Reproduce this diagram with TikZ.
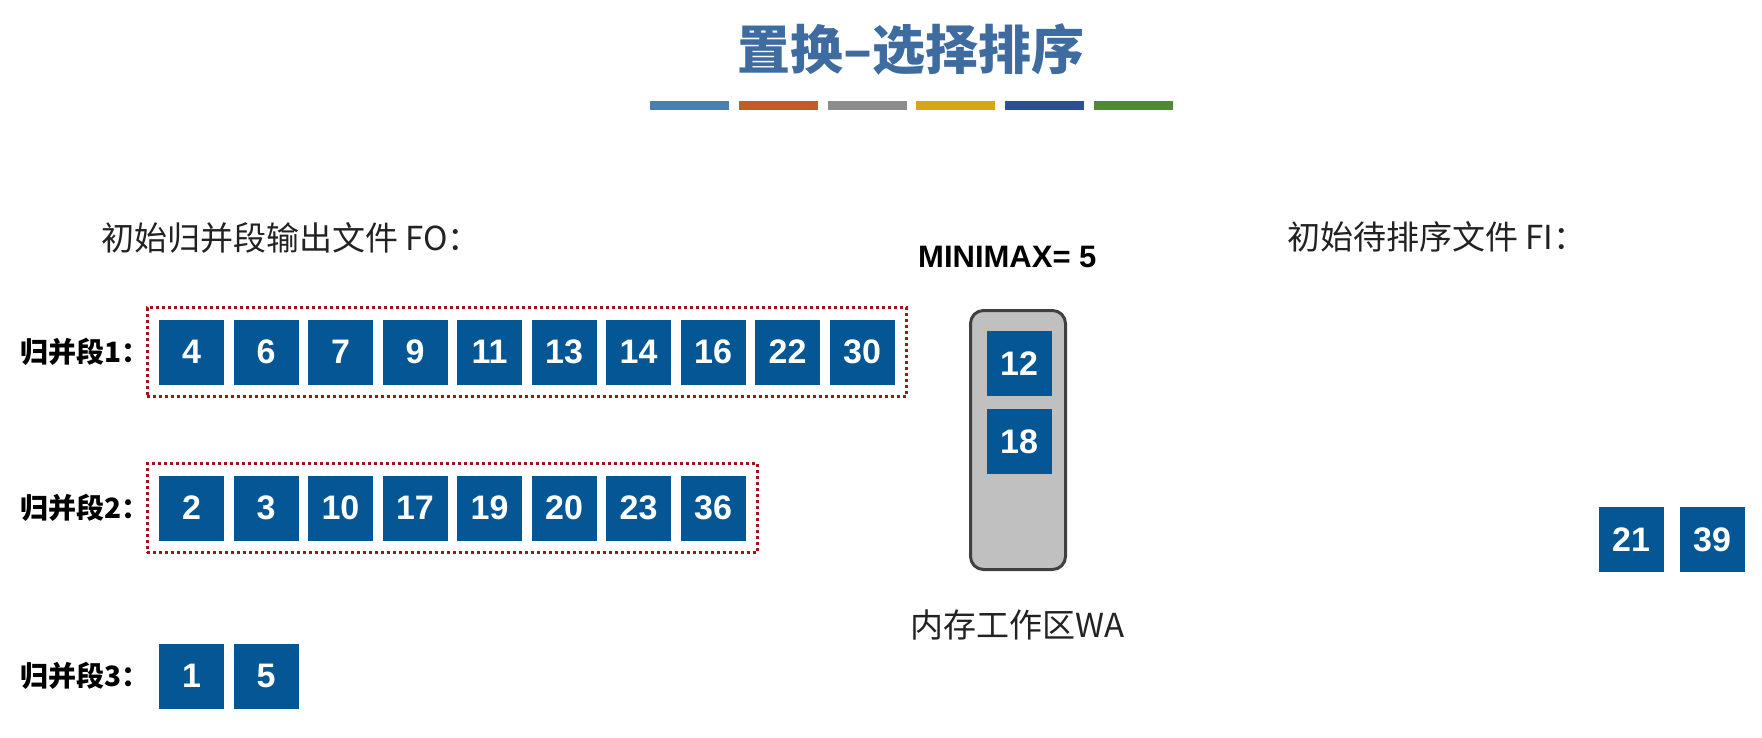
\documentclass[tikz,border=0pt]{standalone}
\usepackage{fontspec}
\setmainfont{Liberation Sans}
\newfontfamily\cjk{Noto Sans CJK SC}
\usetikzlibrary{positioning, fit}

\definecolor{cellblue}{RGB}{4,86,148}
\definecolor{titleblue}{RGB}{62,108,160}
\definecolor{framered}{RGB}{160,20,26}
\definecolor{wafill}{RGB}{192,192,192}
\definecolor{waline}{RGB}{64,64,64}
\definecolor{textgray}{RGB}{34,34,34}
\definecolor{barblue}{RGB}{74,126,180}
\definecolor{barorange}{RGB}{196,92,36}
\definecolor{bargray}{RGB}{140,140,140}
\definecolor{bargold}{RGB}{218,164,24}
\definecolor{barnavy}{RGB}{46,78,152}
\definecolor{bargreen}{RGB}{80,138,52}

\begin{document}
\begin{tikzpicture}[x=1pt, y=-1pt,
    cell/.style={fill=cellblue, text=white, minimum size=65pt, inner sep=0pt, outer sep=0pt, font=\fontsize{34}{34}\selectfont\bfseries},
    run frame/.style={draw=framered, line width=3pt, dash pattern=on 3pt off 3pt, inner sep=12pt},
    run label/.style={anchor=west, inner sep=0pt, font=\fontsize{28}{28}\selectfont\cjk\bfseries},
    heading/.style={anchor=west, inner sep=0pt, text=textgray, font=\fontsize{33}{33}\selectfont\cjk},
    bar/.style={minimum width=79pt, minimum height=9pt, inner sep=0pt}
]
    \useasboundingbox (0,0) rectangle (1762,737);

    % Title and colour bars:
    \node[text=titleblue, font=\fontsize{53}{53}\selectfont\cjk\bfseries] (title) at (911,50) {置换–选择排序};
    \foreach \c [count=\i from 0] in {barblue, barorange, bargray, bargold, barnavy, bargreen} {
        \node[bar, fill=\c] (bar\i) at ({689.5+88.8*\i}, 105.5) {};
    }

    % Output file FO:
    \node[heading] (fo) at (101,238) {初始归并段输出文件 FO：};

    \foreach \v [count=\i from 0] in {4, 6, 7, 9, 11, 13, 14, 16, 22, 30} {
        \node[cell] (a\i) at ({191.5+74.5*\i}, 352) {\v};
    }
    \node[run frame, fit=(a0)(a9)] (run1) {};
    \node[run label] (lab1) at (20,352) {归并段1：};

    \foreach \v [count=\i from 0] in {2, 3, 10, 17, 19, 20, 23, 36} {
        \node[cell] (b\i) at ({191.5+74.5*\i}, 508) {\v};
    }
    \node[run frame, fit=(b0)(b7)] (run2) {};
    \node[run label] (lab2) at (20,508) {归并段2：};

    \foreach \v [count=\i from 0] in {1, 5} {
        \node[cell] (c\i) at ({191.5+74.5*\i}, 676) {\v};
    }
    \node[run label] (lab3) at (20,676) {归并段3：};

    % Work area WA:
    \node[font=\fontsize{31}{31}\selectfont\bfseries, anchor=west, inner sep=0pt] (minimax) at (918,257) {MINIMAX= 5};
    \node[draw=waline, fill=wafill, line width=3pt, rounded corners=13pt, minimum width=95pt, minimum height=259pt] (wa) at (1018,440) {};
    \node[cell] (w0) at (1019,363.5) {12};
    \draw (w0) ++(0,78) node[cell] (w1) {18};
    \draw (wa.south) ++(0,54) node[heading, anchor=center] (walabel) {内存工作区WA};

    % Input file FI:
    \node[heading] (fi) at (1287,237) {初始待排序文件 FI：};
    \node[cell] (f0) at (1631,539.5) {21};
    \draw (f0) ++(81,0) node[cell] (f1) {39};

\end{tikzpicture}
\end{document}
